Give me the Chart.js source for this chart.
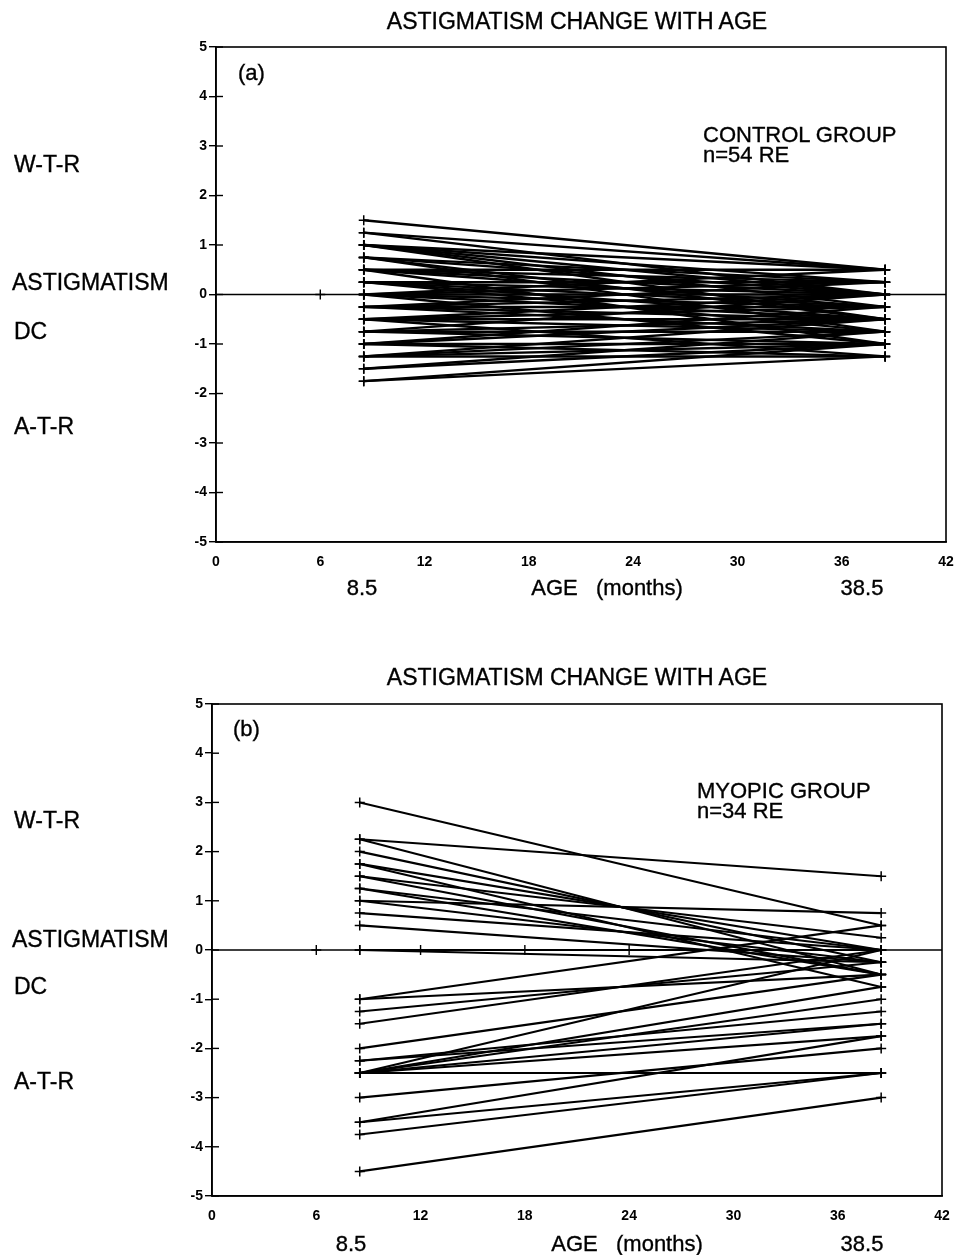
<!DOCTYPE html>
<html><head><meta charset="utf-8">
<script src="https://cdn.jsdelivr.net/npm/chart.js@4"></script>
<style>
html,body{margin:0;padding:0;background:#fff;}
body{width:958px;height:1255px;position:relative;overflow:hidden;font-family:"Liberation Sans",Arial,Helvetica,sans-serif;color:#000;}
canvas{position:absolute;left:0;}
.t{position:absolute;white-space:nowrap;line-height:1;transform:translateY(-50%);-webkit-text-stroke:0.35px #000;}
.c{transform:translate(-50%,-50%);}
.big{font-size:23px;}
.mid{font-size:22px;}
</style></head><body>
<canvas id="ca" width="958" height="620" style="top:0px"></canvas>
<canvas id="cb" width="958" height="615" style="top:640px"></canvas>

<div class="t c big" style="left:577px;top:21px">ASTIGMATISM CHANGE WITH AGE</div>
<div class="t big" style="left:14px;top:164px">W-T-R</div>
<div class="t big" style="left:12px;top:282px">ASTIGMATISM</div>
<div class="t big" style="left:14px;top:331px">DC</div>
<div class="t big" style="left:14px;top:426px">A-T-R</div>
<div class="t mid" style="left:238px;top:73px">(a)</div>
<div class="t mid" style="left:703px;top:135px">CONTROL GROUP</div>
<div class="t mid" style="left:703px;top:155px">n=54 RE</div>
<div class="t c mid" style="left:362px;top:588px">8.5</div>
<div class="t c mid" style="left:607px;top:588px">AGE&nbsp;&nbsp;&nbsp;(months)</div>
<div class="t c mid" style="left:862px;top:588px">38.5</div>

<div class="t c big" style="left:577px;top:677px">ASTIGMATISM CHANGE WITH AGE</div>
<div class="t big" style="left:14px;top:820px">W-T-R</div>
<div class="t big" style="left:12px;top:939px">ASTIGMATISM</div>
<div class="t big" style="left:14px;top:986px">DC</div>
<div class="t big" style="left:14px;top:1081px">A-T-R</div>
<div class="t mid" style="left:233px;top:729px">(b)</div>
<div class="t mid" style="left:697px;top:791px">MYOPIC GROUP</div>
<div class="t mid" style="left:697px;top:811px">n=34 RE</div>
<div class="t c mid" style="left:351px;top:1244px">8.5</div>
<div class="t c mid" style="left:627px;top:1244px">AGE&nbsp;&nbsp;&nbsp;(months)</div>
<div class="t c mid" style="left:862px;top:1244px">38.5</div>

<script>
// ---- data ----
const AGE_START = 8.5;
const AGE_END = 38.5;
const xTickValues = [0, 6, 12, 18, 24, 30, 36, 42];
const yTickValues = [-5, -4, -3, -2, -1, 0, 1, 2, 3, 4, 5];

const controlStart = [1.5, 1.25, 1.25, 1.0, 1.0, 1.0, 1.0, 1.0, 0.75, 0.75, 0.75, 0.75,
  0.5, 0.5, 0.5, 0.5, 0.5, 0.25, 0.25, 0.25, 0.25, 0.25, 0, 0, 0, 0, 0, 0,
  -0.25, -0.25, -0.25, -0.25, -0.25, -0.5, -0.5, -0.5, -0.5, -0.5,
  -0.75, -0.75, -0.75, -0.75, -1.0, -1.0, -1.0, -1.0, -1.25, -1.25, -1.25, -1.25,
  -1.5, -1.5, -1.75, -1.75];
const controlEnd = [0.5, 0.5, 0.0, 0.5, 0.25, 0, -0.25, -0.5, 0.25, 0, -0.5, -0.75,
  0.5, 0.25, 0, -0.25, -1.0, 0.25, 0, -0.25, -0.5, -0.75, 0.5, 0.25, 0, -0.25, -0.5, -1.0,
  0.25, 0, -0.25, -0.5, -0.75, 0, -0.25, -0.5, -0.75, -1.25,
  0, -0.5, -0.75, -1.0, -0.25, -0.5, -1.0, -1.25, -0.5, -0.75, -1.0, -1.25,
  -0.75, -1.0, -1.25, -1.0];
const controlZeroMarks = [6];

const myopicStart = [3.0, 2.25, 2.25, 2.0, 1.75, 1.75, 1.5, 1.5, 1.25, 1.25, 1.0, 1.0,
  0.75, 0.5, 0, 0, -1.0, -1.0, -1.25, -1.5, -2.0, -2.25, -2.25,
  -2.5, -2.5, -2.5, -2.5, -2.5, -2.5, -3.0, -3.5, -3.5, -3.75, -4.5];
const myopicEnd = [0.5, 1.5, -0.5, -0.25, 0, -0.75, 0.25, -0.5, 0, -0.5, 0.75, -0.25,
  0, -0.25, 0, -0.25, 0.5, -0.5, -0.25, 0, -0.5, -1.25, -1.5,
  -2.5, -1.5, -1.0, -0.75, 0, -1.75, -2.0, -2.5, -1.75, -2.5, -3.0];
const myopicZeroMarks = [6, 12, 18, 24];

// ---- chart building ----
const Y_W = 40, X_H = 30;
const framePlugin = {
  id: 'frame',
  afterDatasetsDraw(chart) {
    const { ctx, chartArea: a, scales: { y } } = chart;
    ctx.save();
    ctx.strokeStyle = '#000';
    ctx.lineWidth = 1.6;
    ctx.strokeRect(a.left, a.top, a.right - a.left, a.bottom - a.top);
    ctx.lineWidth = 1.4;
    y.ticks.forEach(t => {
      const p = y.getPixelForValue(t.value);
      ctx.beginPath(); ctx.moveTo(a.left, p); ctx.lineTo(a.left + 7, p); ctx.stroke();
    });
    ctx.restore();
  }
};

const tickFont = { family: '"Liberation Sans", Arial, sans-serif', size: 14, weight: 'bold' };

function makeChart(id, starts, ends, zeroMarks, area, lineW) {
  const cv = document.getElementById(id);
  const W = cv.width, H = cv.height;
  const datasets = [];
  const zx = [xTickValues[0], ...zeroMarks, xTickValues[xTickValues.length - 1]];
  datasets.push({
    data: zx.map(x => ({ x, y: 0 })),
    showLine: true, borderColor: '#000', borderWidth: 1.6,
    pointStyle: 'cross', pointBorderColor: '#000', pointBorderWidth: 1.4,
    pointRadius: zx.map((x, i) => (i === 0 || i === zx.length - 1) ? 0 : 5)
  });
  starts.forEach((s, i) => {
    datasets.push({
      data: [{ x: AGE_START, y: s }, { x: AGE_END, y: ends[i] }],
      showLine: true, borderColor: '#000', borderWidth: lineW,
      pointStyle: 'cross', pointBorderColor: '#000', pointBorderWidth: 1.5,
      pointRadius: 5
    });
  });
  const ch = new Chart(cv, {
    type: 'scatter',
    data: { datasets },
    options: {
      responsive: false, animation: false, devicePixelRatio: 1,
      layout: { padding: { left: area.left - Y_W, right: W - area.right, top: area.top, bottom: H - area.bottom - X_H } },
      plugins: { legend: { display: false }, tooltip: { enabled: false } },
      scales: {
        x: {
          type: 'linear', min: 0, max: 42,
          afterBuildTicks: s => { s.ticks = xTickValues.map(v => ({ value: v })); },
          afterFit: s => { s.height = X_H; },
          grid: { display: false },
          border: { display: true, color: '#000', width: 1.6 },
          ticks: { color: '#000', padding: 4, maxRotation: 0, autoSkip: false, font: tickFont }
        },
        y: {
          type: 'linear', min: -5, max: 5,
          afterBuildTicks: s => { s.ticks = yTickValues.map(v => ({ value: v })); },
          afterFit: s => { s.width = Y_W; },
          grid: { display: true, drawOnChartArea: false, drawTicks: true, tickLength: 7, color: '#000', lineWidth: 1.4 },
          border: { display: true, color: '#000', width: 1.6 },
          ticks: { color: '#000', padding: 2, autoSkip: false, font: tickFont }
        }
      }
    },
    plugins: [framePlugin]
  });
  for (let k = 0; k < 3; k++) {
    const a = ch.chartArea, p = ch.options.layout.padding;
    const dl = area.left - a.left, dr = a.right - area.right, dt = area.top - a.top, db = a.bottom - area.bottom;
    if (!dl && !dr && !dt && !db) break;
    p.left += dl; p.right += dr; p.top += dt; p.bottom += db;
    ch.update('none');
  }
  return ch;
}

makeChart('ca', controlStart, controlEnd, controlZeroMarks, { left: 216, right: 946, top: 47, bottom: 542 }, 2.5);
makeChart('cb', myopicStart, myopicEnd, myopicZeroMarks, { left: 212, right: 942, top: 64, bottom: 556 }, 2.1);
</script>
</body></html>
